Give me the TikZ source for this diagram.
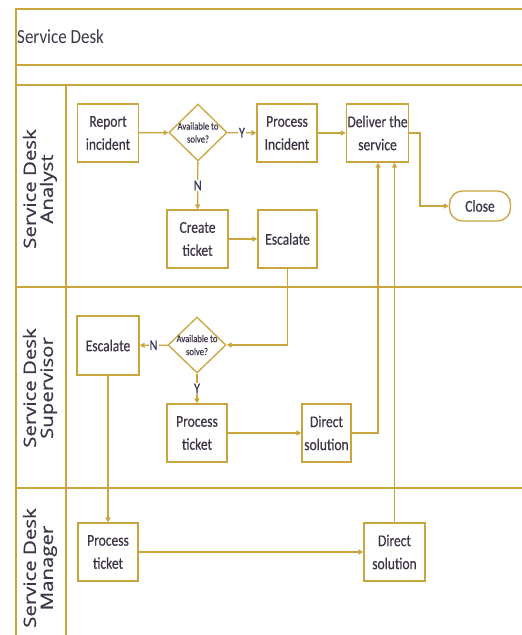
\documentclass[tikz,border=0pt]{standalone}
\usepackage{fontspec}
\setmainfont{Carlito}
\newfontfamily\boxfont[FakeStretch=0.82,FakeBold=0.4]{Carlito}
\newfontfamily\titlefont[FakeStretch=0.85]{Carlito}
\newfontfamily\lanefont[FakeStretch=1.2,FakeBold=0.6]{Open Sans}
\usetikzlibrary{arrows.meta,shapes.geometric,calc}
\definecolor{gold}{HTML}{C9A53E}
\definecolor{txt}{HTML}{3D3546}
\definecolor{lbl}{HTML}{363C58}
\begin{document}
\begin{tikzpicture}[x=1pt,y=-1pt,
  every node/.style={text=txt},
  frame/.style={draw=gold,line width=1.3pt},
  proc/.style={draw=gold,line width=1.3pt,fill=white,minimum width=#1,minimum height=58pt,inner sep=1pt,align=center,font=\boxfont\fontsize{16.5}{23}\selectfont},
  proc/.default=60pt,
  dec/.style={draw=gold,line width=1.3pt,fill=white,diamond,minimum width=58pt,minimum height=57pt,inner sep=0pt},
  dectext/.style={align=center,inner sep=0pt,font=\boxfont\fontsize{10.5}{13}\selectfont},
  term/.style={draw=gold,line width=1.3pt,fill=white,rounded corners=13pt,minimum width=61pt,minimum height=30pt,font=\boxfont\fontsize{16.5}{18}\selectfont},
  conn/.style={draw=gold,line width=1.3pt,-{Triangle[length=5pt,width=5pt]}},
  yn/.style={fill=white,text=lbl,inner sep=1pt,font=\boxfont\fontsize{15}{16}\selectfont},
  lane/.style={rotate=90,align=center,font=\lanefont\fontsize{17}{17}\selectfont,text=txt}]
\useasboundingbox (0,0) rectangle (522,635);
\begin{scope}
\clip (0,0) rectangle (522,635);
\fill[white] (0,0) rectangle (522,635);
% frame
\draw[frame] (530,9) -- (16,9) -- (16,645);
\draw[frame] (16,65) -- (530,65);
\draw[frame] (16,85) -- (530,85);
\draw[frame] (16,287) -- (530,287);
\draw[frame] (16,488) -- (530,488);
\draw[frame] (66,85) -- (66,645);
\end{scope}
\node[anchor=west,font=\titlefont\fontsize{20}{22}\selectfont,inner sep=0pt] (title) at (17,37) {Service Desk};
\node[lane] (l1) at (40,189) {Service Desk\\Analyst};
\node[lane] (l2) at (40,388) {Service Desk\\Supervisor};
\node[lane] (l3) at (40,568) {Service Desk\\Manager};
% analyst
\node[proc=61pt] (rep) at (108,133) {Report\\incident};
\node[dec] (d1) at (198,132.5) {};
\node[dectext] (d1t) at (198,132.5) {Available to\\solve?};
\node[proc] (pin) at (287,133) {Process\\Incident};
\node[proc=61pt] (del) at (377.5,133) {Deliver the\\service};
\node[term] (close) at (480,206) {Close};
\node[proc=61pt] (ct) at (197.5,239) {Create\\ticket};
\node[proc=59pt] (es1) at (287.5,239) {Escalate};
% supervisor
\node[dec,minimum height=56pt] (d2) at (197,345) {};
\node[dectext] (d2t) at (197,345) {Available to\\solve?};
\node[proc=62pt,minimum height=59pt] (es2) at (108,345.5) {Escalate};
\node[proc] (pt2) at (197,433) {Process\\ticket};
\node[proc=49pt] (ds2) at (326.5,433) {Direct\\solution};
% manager
\node[proc] (pt3) at (108,552) {Process\\ticket};
\node[proc=61pt] (ds3) at (394.5,552) {Direct\\solution};
% connectors
\draw[conn] (rep) -- (d1);
\draw[conn] (d1) -- node[yn] {Y} (pin);
\draw[conn] (pin) -- (del);
\draw[conn] (d1) -- node[yn] {N} (ct);
\draw[conn] (ct) -- (es1);
\draw[conn] (del.east) -- (420,133) |- (close.west);
\draw[conn] (es1.south) |- (d2.east);
\draw[conn] (d2) -- node[yn] {N} (es2);
\draw[conn] (d2) -- node[yn] {Y} (pt2);
\draw[conn] (pt2) -- (ds2);
\draw[conn] (ds2.east) -| ([xshift=0.5pt]del.south);
\draw[conn] (ds3.north) -- (ds3.north |- del.south);
\draw[conn] (es2.south) -- (pt3.north);
\draw[conn] (pt3) -- (ds3);
\end{tikzpicture}
\end{document}
